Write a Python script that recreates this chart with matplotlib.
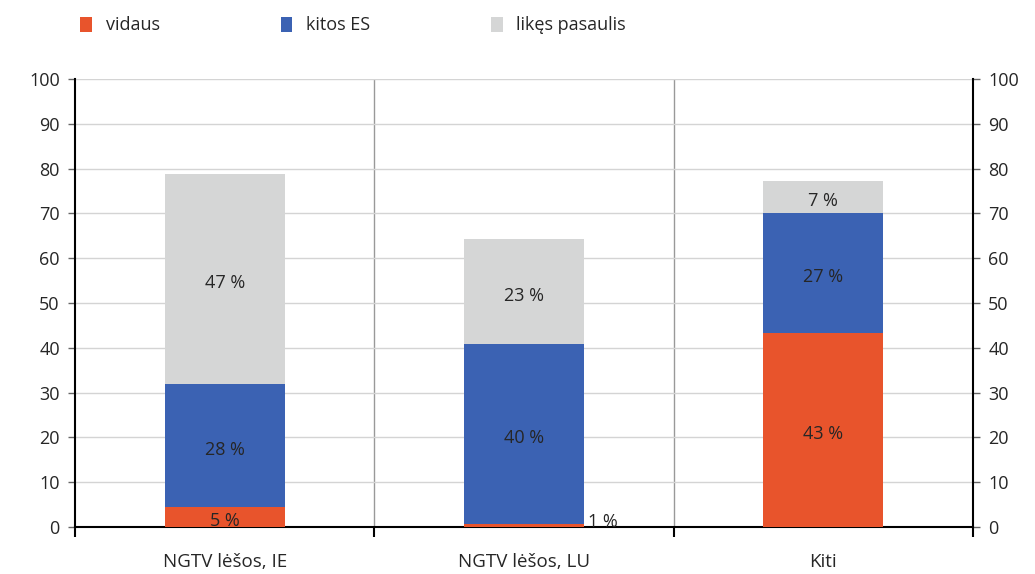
import matplotlib
matplotlib.use('Agg')
import matplotlib.pyplot as plt
import numpy as np

plt.rcParams['font.family'] = ['Open Sans', 'DejaVu Sans']

# data
categories = ['NGTV lėšos, IE', 'NGTV lėšos, LU', 'Kiti']
series = ['vidaus', 'kitos ES', 'likęs pasaulis']
vidaus = [4.5, 0.6, 43.3]
kitos = [27.4, 40.2, 26.8]
likes = [46.9, 23.5, 7.1]
lbl_vidaus = ['5 %', '1 %', '43 %']
lbl_kitos = ['28 %', '40 %', '27 %']
lbl_likes = ['47 %', '23 %', '7 %']

colors = ['#e8542c', '#3b62b3', '#d5d6d6']
txt = '#262626'

fig = plt.figure(figsize=(10.35, 5.74), dpi=100)
ax = fig.add_axes([0.0725, 0.0819, 0.8675, 0.7805])

x = np.arange(len(categories))
w = 0.4
bottoms = np.zeros(len(categories))
handles = []
for vals, c, name in zip([vidaus, kitos, likes], colors, series):
    b = ax.bar(x, vals, w, bottom=bottoms, color=c, label=name, zorder=3)
    handles.append(b)
    bottoms = bottoms + np.array(vals)

# segment labels (nudged down a few points like the original)
bottoms = np.zeros(len(categories))
for vals, labs in zip([vidaus, kitos, likes], [lbl_vidaus, lbl_kitos, lbl_likes]):
    for i, (v, l) in enumerate(zip(vals, labs)):
        if v < 1:
            ax.annotate(l, (x[i] + w / 2, 1.8), xytext=(3, -2), textcoords='offset points',
                        ha='left', va='center', fontsize=13, color=txt, zorder=4)
        else:
            ax.annotate(l, (x[i], bottoms[i] + v / 2), xytext=(0, -3), textcoords='offset points',
                        ha='center', va='center', fontsize=13, color=txt, zorder=4)
    bottoms = bottoms + np.array(vals)

ax.set_xlim(-0.5, 2.5)
ax.set_ylim(0, 100)
ax.set_yticks(range(0, 101, 10))
ax.grid(axis='y', color='#d4d4d4', lw=1, zorder=0)
for s in [0.5, 1.5]:
    ax.axvline(s, color='#999999', lw=1, zorder=1)

ax.set_xticks(x)
ax.set_xticklabels(categories, fontsize=13.5, color=txt)
ax.set_xticks([-0.5, 0.5, 1.5, 2.5], minor=True)
ax.tick_params(axis='x', which='major', length=0, pad=19)
ax.tick_params(axis='x', which='minor', length=7, width=1.5, color='black')
ax.tick_params(axis='y', length=5, width=1, color='#666666', labelsize=13, labelcolor=txt,
               left=True, right=True, labelleft=True, labelright=True, pad=6)

for side in ['left', 'right', 'bottom']:
    ax.spines[side].set_color('black')
    ax.spines[side].set_linewidth(1.5)
ax.spines['top'].set_visible(False)

fig.legend(handles=handles, labels=series, loc='upper left', bbox_to_anchor=(0.062, 1.0),
           ncol=3, frameon=False, fontsize=13, handlelength=0.65, handleheight=0.9,
           columnspacing=6.7, handletextpad=0.75, labelcolor=txt)

plt.savefig('out.png', dpi=100)
